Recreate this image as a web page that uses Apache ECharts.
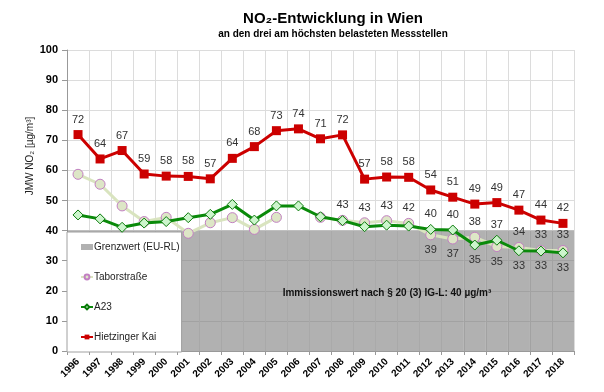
<!DOCTYPE html>
<html><head><meta charset="utf-8">
<script src="https://cdn.jsdelivr.net/npm/echarts@6/dist/echarts.min.js"></script>
<style>html,body{margin:0;padding:0;background:#fff}#c{width:604px;height:392px}</style>
</head><body><div id="c"></div>
<script>
const years = ['1996','1997','1998','1999','2000','2001','2002','2003','2004','2005','2006','2007','2008','2009','2010','2011','2012','2013','2014','2015','2016','2017','2018'];
const grenzwert = [40,40,40,40,40,40,40,40,40,40,40,40,40,40,40,40,40,40,40,40,40,40,40];
const taborstrasse = [58.7,55.4,48.2,43,44.4,39.1,42.6,44.3,40.4,44.4,null,44.4,43.4,42.6,43.3,42.4,38.6,37.2,37.8,34.7,34.4,33.4,33.4];
const a23 = [45.2,43.9,41.1,42.5,43,44.3,45.4,48.7,43.5,48.2,48.2,44.6,43.3,41.3,41.8,41.5,40.4,40.2,35.2,36.8,33.3,33.2,32.6];
const hietzinger = [71.9,63.8,66.6,58.8,58.1,58,57.2,64,67.9,73.2,73.8,70.5,71.8,57.1,57.8,57.7,53.5,51.1,48.8,49.3,46.8,43.5,42.4];
const yTicks = [0,10,20,30,40,50,60,70,80,90,100];
const taborLabelFrom = '2008';
const a23LabelFrom = '2012';

const F = 'Liberation Sans, Arial, sans-serif';
const labelBase = {show:true, color:'#333', fontSize:11, fontFamily:F, distance:4, formatter: p => Math.round(p.value)};
function pts(vals, other, fromYear, isTabor){
  const from = years.indexOf(fromYear);
  return vals.map((v,i)=>{
    if (v == null) return null;
    if (i < from) return {value:v};
    const o = other[i];
    let top = (o == null) || (isTabor ? v >= o : v > o);
    return {value:v, label:Object.assign({}, labelBase, {position: top ? 'top':'bottom'})};
  });
}

const chart = echarts.init(document.getElementById('c'), null, {renderer:'canvas'});
chart.setOption({
  animation:false,
  backgroundColor:'#fff',
  title:{
    text:'NO₂-Entwicklung in Wien',
    subtext:'an den drei am höchsten belasteten Messstellen',
    left:328, top:6, textAlign:'center', itemGap:3,
    textStyle:{fontFamily:F, fontSize:15, fontWeight:'bold', color:'#000'},
    subtextStyle:{fontFamily:F, fontSize:10, fontWeight:'bold', color:'#000'}
  },
  grid:{left:67, right:30, top:50, bottom:41, containLabel:false},
  legend:{
    orient:'vertical', left:67, top:232,
    padding:[8.5,2,8.5,13],
    itemWidth:12, itemHeight:6, itemGap:17,
    backgroundColor:'#fff', borderColor:'#a0a0a0', borderWidth:1,
    textStyle:{fontFamily:F, fontSize:10, color:'#222', padding:[0,0,0,-4], lineHeight:13},
    data:[{name:'Grenzwert (EU-RL)', icon:'rect'},'Taborstraße','A23','Hietzinger Kai']
  },
  xAxis:{
    type:'category', data:years, boundaryGap:true,
    axisLine:{lineStyle:{color:'#999'}},
    axisTick:{show:true, lineStyle:{color:'#999'}, length:4},
    axisLabel:{rotate:45, fontFamily:F, fontSize:10, fontWeight:'bold', color:'#000', margin:9, interval:0},
    splitLine:{show:true, lineStyle:{color:'#dcdcdc'}}
  },
  yAxis:{
    type:'value', min:0, max:100, interval:10,
    axisLine:{show:true, lineStyle:{color:'#999'}},
    axisTick:{show:true, lineStyle:{color:'#999'}, length:5},
    axisLabel:{fontFamily:F, fontSize:11, fontWeight:'bold', color:'#000', margin:9, formatter:v=> yTicks.includes(v)? String(v):''},
    splitLine:{lineStyle:{color:'#dcdcdc'}}
  },
  graphic:[
    {type:'text', x:387, y:293, style:{text:'Immissionswert nach § 20 (3) IG-L: 40 µg/m³', font:'bold 10px Liberation Sans, Arial, sans-serif', fill:'#111', textAlign:'center', textVerticalAlign:'middle'}, z:100},
    {type:'text', x:30, y:156, rotation:Math.PI/2, style:{text:'JMW NO₂ [µg/m³]', font:'10px Liberation Sans, Arial, sans-serif', fill:'#222', textAlign:'center', textVerticalAlign:'middle'}, z:100}
  ],
  series:[
    {name:'Grenzwert (EU-RL)', type:'bar', data:grenzwert, barCategoryGap:'0%', barGap:'0%',
     itemStyle:{color:'rgba(120,120,120,0.58)'}, silent:true, z:1},
    {name:'Taborstraße', type:'line', data:pts(taborstrasse, a23, taborLabelFrom, true), connectNulls:false,
     symbol:'circle', symbolSize:10,
     lineStyle:{color:'#d9e4bf', width:3},
     itemStyle:{color:'#dde6c6', borderColor:'#c27fc2', borderWidth:1}, z:3},
    {name:'A23', type:'line', data:pts(a23, taborstrasse, a23LabelFrom, false),
     symbol:'diamond', symbolSize:10,
     lineStyle:{color:'#0a8a0a', width:3},
     itemStyle:{color:'#ccf5cc', borderColor:'#0a7a0a', borderWidth:1}, z:4},
    {name:'Hietzinger Kai', type:'line', data:hietzinger,
     symbol:'rect', symbolSize:9,
     lineStyle:{color:'#cc0000', width:3},
     itemStyle:{color:'#cc0000'},
     label:Object.assign({}, labelBase, {position:'top', distance:5}), z:5}
  ]
});
</script></body></html>
